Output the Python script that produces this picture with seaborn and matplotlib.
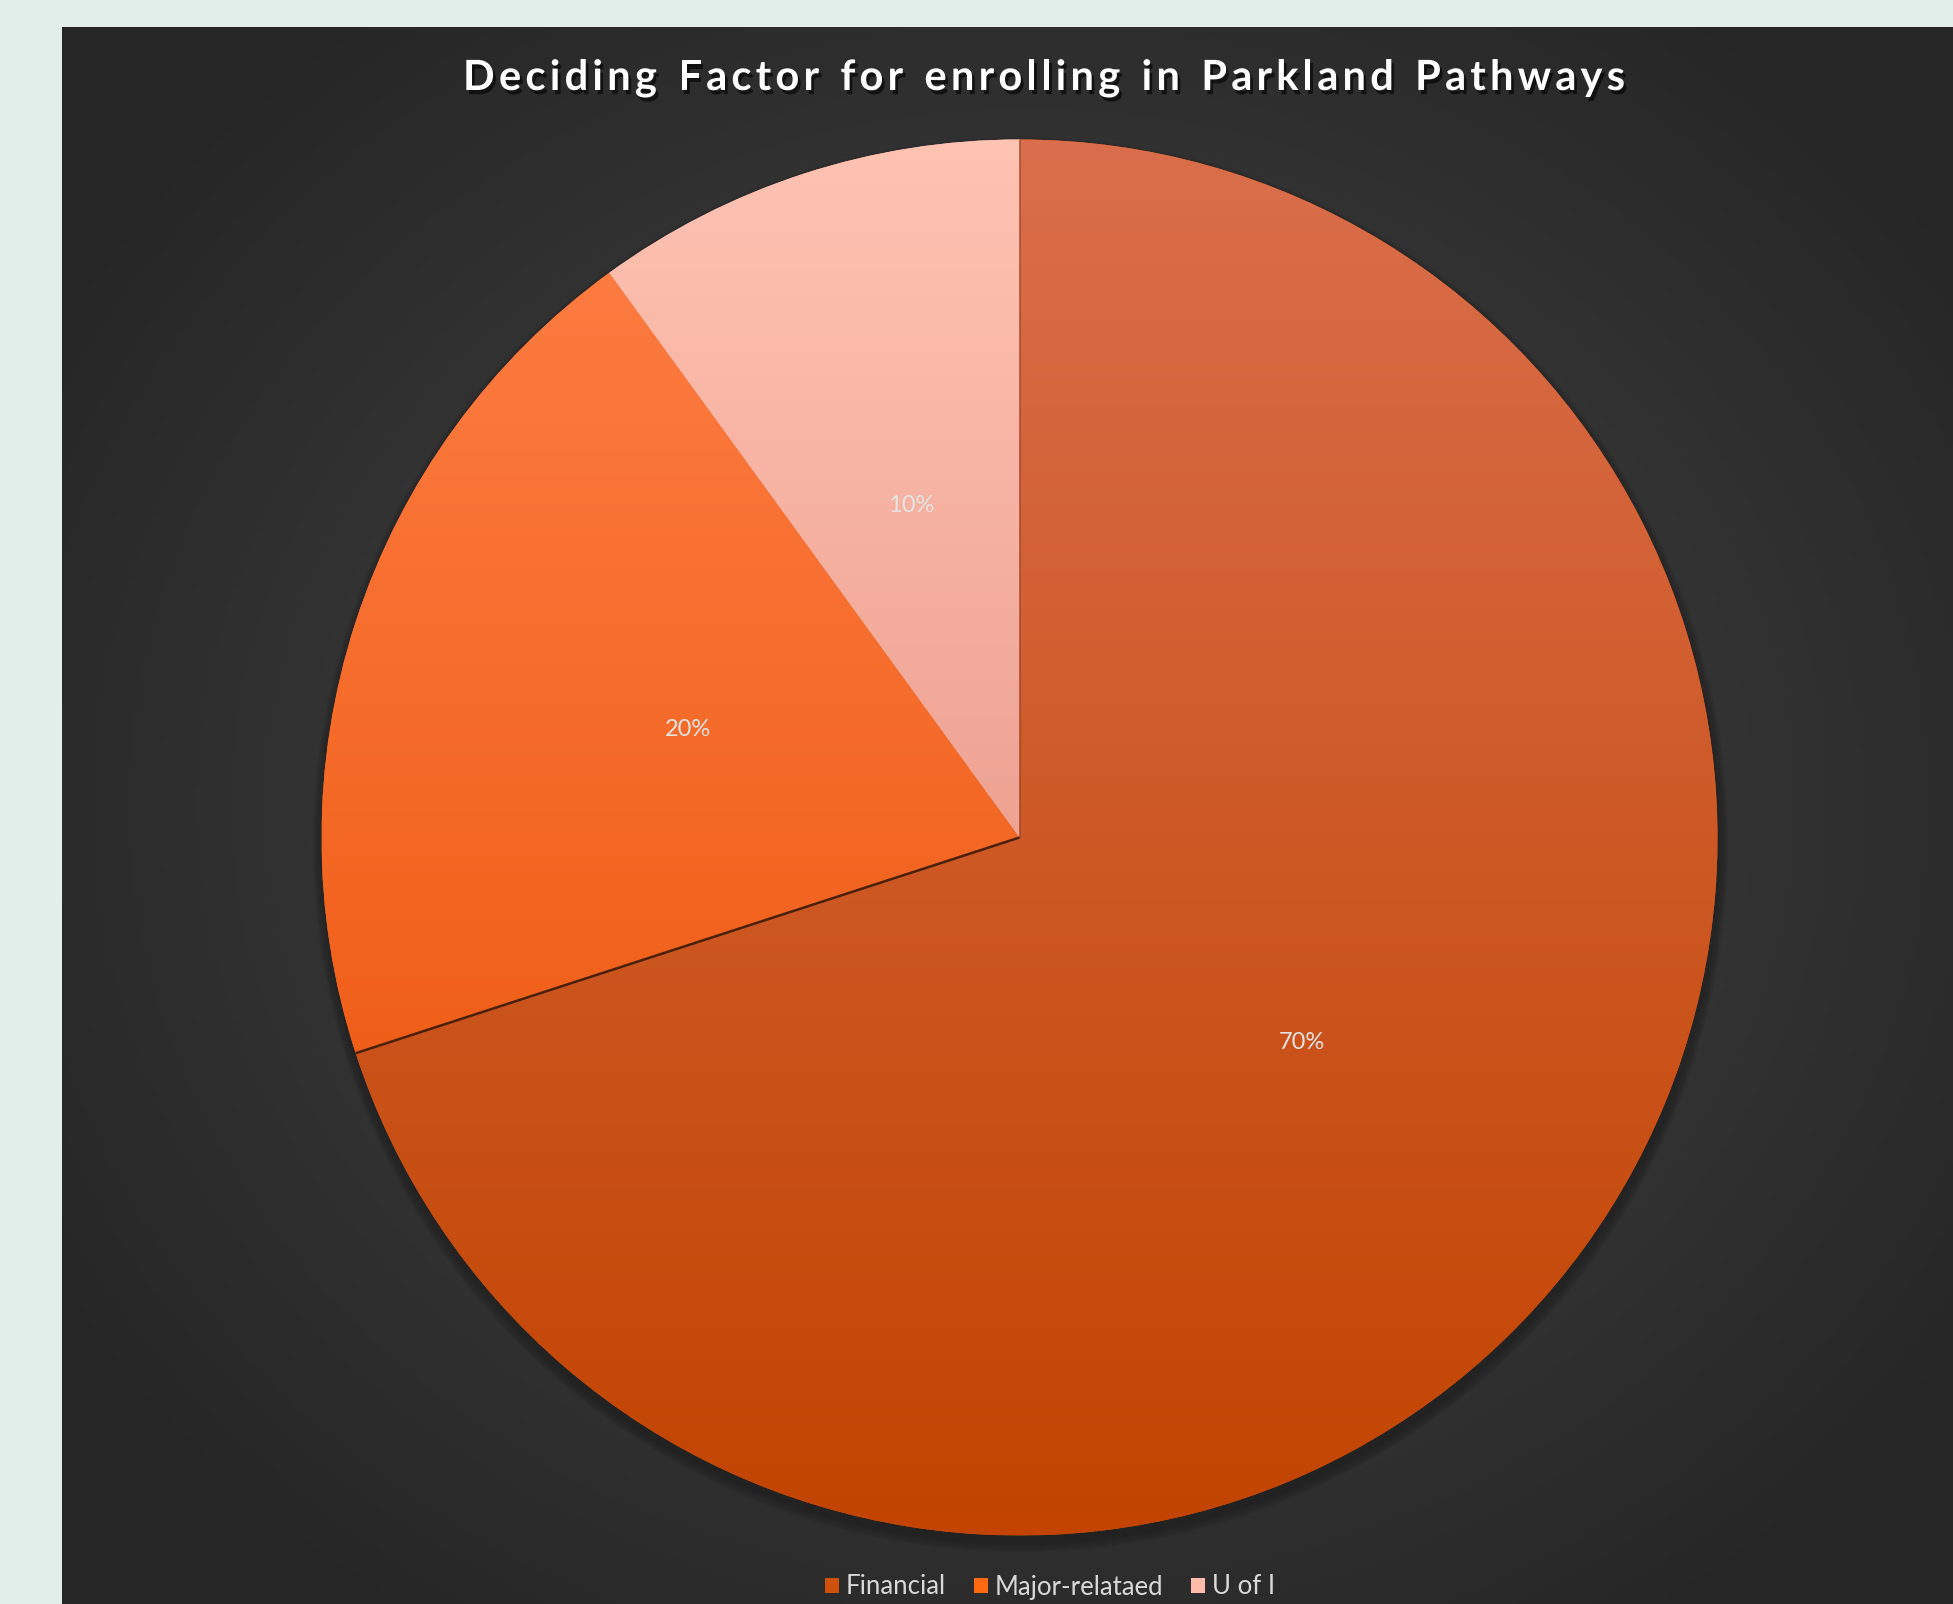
import numpy as np
import matplotlib
matplotlib.use("Agg")
import matplotlib.pyplot as plt
import seaborn as sns
from matplotlib.colors import LinearSegmentedColormap
from matplotlib.patches import Circle
import matplotlib.patheffects as pe

# ---- data ----
categories = ["Financial", "Major-relataed", "U of I"]
values = [70, 20, 10]
title_text = "Deciding Factor for enrolling in Parkland Pathways"

# ---- style ----
sns.set_theme(style="dark")
plt.rcParams['font.family'] = ['Lato', 'DejaVu Sans']

W, H = 1953, 1604
fig = plt.figure(figsize=(W / 100, H / 100), dpi=100, facecolor="#E1EEEA")
ax = fig.add_axes([0, 0, 1, 1])
ax.set_facecolor("#E1EEEA")
ax.set_xlim(0, W)
ax.set_ylim(0, H)

# panel with radial gradient
px0, px1, py0, py1 = 62, W, 0, H - 27
gx = np.linspace(px0, px1, 400)
gy = np.linspace(py0, py1, 400)
GX, GY = np.meshgrid(gx, gy)
cxg, cyg = 1030, 800
d = np.sqrt(((GX - cxg) / 1150) ** 2 + ((GY - cyg) / 1000) ** 2)
d = np.clip(d, 0, 1)
bg_cmap = LinearSegmentedColormap.from_list("bg", ["#404040", "#3b3b3b", "#313131", "#262626"])
ax.imshow(d, extent=[px0, px1, py0, py1], origin="lower", cmap=bg_cmap,
          aspect="auto", zorder=0, vmin=0, vmax=1)

# pie geometry
cx, cy, R = 1019.5, H - 837.5, 698

# soft shadow (mostly below)
for i in range(10):
    ax.add_patch(Circle((cx + 1, cy - 7), R + 10 - i, color="black",
                        alpha=0.025, lw=0, zorder=1))

base_colors = ["#D05109", "#F86609", "#F8AE9D"]
wedges, texts, autotexts = ax.pie(
    values, colors=base_colors, startangle=90, counterclock=False,
    center=(cx, cy), radius=R, frame=True, autopct="%1.0f%%", pctdistance=0.5,
    wedgeprops=dict(linewidth=0),
    textprops=dict(color="#e4e4e4", fontsize=17))
for w in wedges:
    w.set_zorder(2)

grads = [("#DA6E4C", "#C24400"), ("#FF8048", "#E84E00"), ("#FFC3B3", "#DE8272")]
g = np.linspace(0, 1, 256).reshape(-1, 1)
for w, (top, bot) in zip(wedges, grads):
    cm = LinearSegmentedColormap.from_list("w", [top, bot])
    im = ax.imshow(g, extent=[cx - R, cx + R, cy - R, cy + R], origin="upper",
                   cmap=cm, aspect="auto", zorder=3)
    im.set_clip_path(w)

# radial boundary lines of the Financial slice (drawn from wedge angles)
fw = wedges[0]
for ang, col, lw, a in [(fw.theta1, "#3a1a08", 1.8, 0.9), (fw.theta2, "#8a3a20", 1.2, 0.6)]:
    t = np.deg2rad(ang)
    ax.plot([cx, cx + R * np.cos(t)], [cy, cy + R * np.sin(t)], color=col,
            lw=lw, alpha=a, zorder=4, solid_capstyle="butt")
for t in autotexts:
    t.set_zorder(5)

# title with letter spacing
fig.canvas.draw()
renderer = fig.canvas.get_renderer()
title_kw = dict(fontsize=30, fontweight="bold", color="white", zorder=6,
                va="baseline", ha="left",
                path_effects=[pe.withSimplePatchShadow(offset=(2, -3),
                              shadow_rgbFace="black", alpha=0.6)])
widths = []
for ch in title_text:
    tt = ax.text(0, 0, ch if ch != " " else "n", **title_kw)
    bb = tt.get_window_extent(renderer)
    w_ = bb.width if ch != " " else bb.width * 0.55
    widths.append(w_)
    tt.remove()
target = 1162.0
extra = (target - sum(widths)) / (len(title_text) - 1)
x = 1044 - target / 2
for ch, w_ in zip(title_text, widths):
    if ch != " ":
        ax.text(x, H - 90, ch, **title_kw)
    x += w_ + extra

# legend
leg = ax.legend(wedges, categories, loc="center", bbox_to_anchor=(1050, 17),
                bbox_transform=ax.transData, ncol=3, frameon=False,
                fontsize=18.5, handlelength=0.55, handleheight=0.55, handletextpad=0.25,
                columnspacing=1.1, labelcolor="#d9d9d9")
for h, c in zip(leg.legend_handles, ["#D05109", "#FF6A10", "#FFBBAA"]):
    h.set_facecolor(c)
    h.set_edgecolor("none")

ax.set_xlim(0, W)
ax.set_ylim(0, H)
ax.set_axis_off()
fig.savefig("out.png", dpi=100, facecolor=fig.get_facecolor())
